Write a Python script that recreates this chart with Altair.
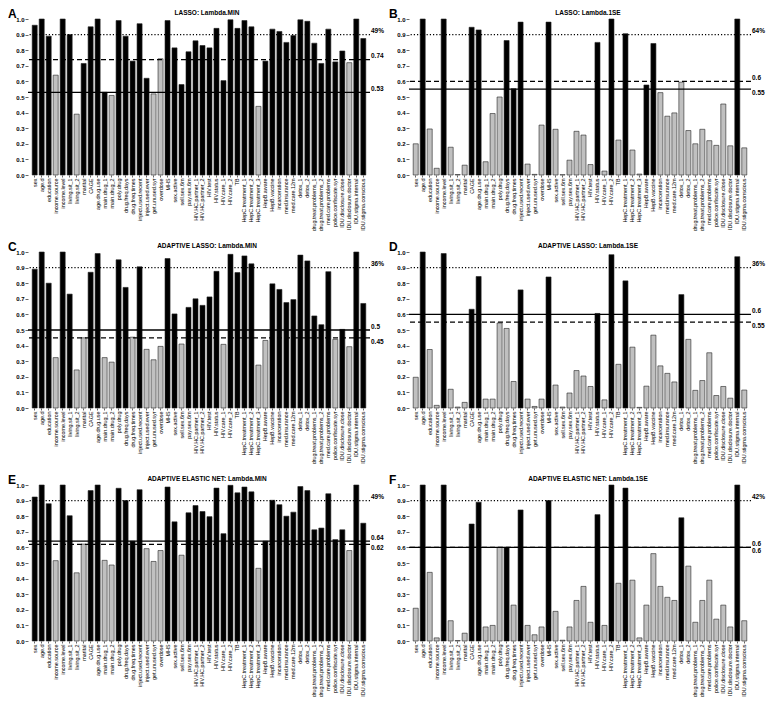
import altair as alt
import pandas as pd

FONT = "Liberation Sans"
W, H = 342, 156

VARS = ["sex", "age.d", "education", "income.source", "income.level", "living.sit_1",
        "living.sit_2", "marital", "CAGE", "age.drug.use", "main.drug_1", "main.drug_2",
        "poly.drug", "drug.freq.days", "drug.freq.times", "inject.used.recent",
        "inject.used.ever", "get.unused.syr", "overdose", "MHS", "sex.active",
        "sell.sex.6m", "pay.sex.6m", "HIV.HC.partner_1", "HIV.HC.partner_2", "HIV.test",
        "HIV.status", "HIV.care_1", "HIV.care_2", "TB", "HepC.treatment_1",
        "HepC.treatment_2", "HepC.treatment_3", "HepB.aware", "HepB.vaccine",
        "incarceration", "med.insurance", "med.care.12m", "detox_1", "detox_2",
        "drug.treat.problems_1", "drug.treat.problems_2", "med.care.problems",
        "police.confiscate.syr", "IDU.disclosure.close", "IDU.disclosure.doctor",
        "IDU.stigma.internal", "IDU.stigma.conscious"]

# Panel A: LASSO lambda.min
VAL_A = [0.96, 1.0, 0.89, 0.64, 1.0, 0.90, 0.39, 0.715, 0.95, 1.0, 0.53, 0.51, 0.99, 0.89,
         0.73, 0.97, 0.62, 0.52, 0.745, 0.99, 0.815, 0.58, 0.79, 0.86, 0.83, 0.815, 0.94,
         0.605, 0.995, 0.94, 0.99, 0.95, 0.44, 0.73, 0.935, 0.92, 0.85, 0.895, 0.995, 0.985,
         0.845, 0.715, 0.935, 0.725, 0.795, 0.72, 1.0, 0.875]
GREY_A = ["income.source", "living.sit_2", "main.drug_2", "get.unused.syr", "overdose",
          "HepC.treatment_3", "IDU.disclosure.doctor"]

# Panel B: LASSO lambda.1se
VAL_B = [0.20, 1.0, 0.295, 0.043, 1.0, 0.178, 0.003, 0.063, 0.947, 0.93, 0.085, 0.394, 0.50,
         0.862, 0.553, 0.98, 0.07, 0.004, 0.32, 0.98, 0.293, 0.002, 0.095, 0.28, 0.256,
         0.067, 0.85, 0.025, 1.0, 0.224, 0.906, 0.16, 0.006, 0.577, 0.843, 0.528, 0.377,
         0.398, 0.595, 0.285, 0.20, 0.293, 0.22, 0.19, 0.455, 0.187, 1.0, 0.174]
BLACK_B = ["age.d", "income.level", "CAGE", "age.drug.use", "drug.freq.days",
           "drug.freq.times", "inject.used.recent", "MHS", "HIV.status", "HIV.care_2",
           "HepC.treatment_1", "HepB.aware", "HepB.vaccine", "IDU.stigma.internal"]

# Panel C: adaptive LASSO lambda.min
VAL_C = [0.89, 1.0, 0.80, 0.323, 1.0, 0.73, 0.244, 0.45, 0.87, 0.99, 0.323, 0.294, 0.95,
         0.773, 0.454, 0.905, 0.376, 0.309, 0.395, 0.958, 0.603, 0.41, 0.645, 0.70, 0.658,
         0.712, 0.876, 0.408, 0.985, 0.868, 0.975, 0.924, 0.275, 0.433, 0.796, 0.76, 0.676,
         0.695, 0.98, 0.943, 0.59, 0.534, 0.874, 0.44, 0.504, 0.393, 1.0, 0.67]
GREY_C = ["income.source", "living.sit_2", "marital", "main.drug_1", "main.drug_2",
          "drug.freq.times", "inject.used.ever", "get.unused.syr", "overdose", "sell.sex.6m",
          "HIV.care_1", "HepC.treatment_3", "HepB.aware", "police.confiscate.syr",
          "IDU.disclosure.doctor"]

# Panel D: adaptive LASSO lambda.1se
VAL_D = [0.197, 1.0, 0.375, 0.017, 0.99, 0.12, 0.006, 0.036, 0.633, 0.843, 0.057, 0.057,
         0.545, 0.51, 0.17, 0.757, 0.057, 0.01, 0.057, 0.84, 0.147, 0.006, 0.096, 0.24,
         0.205, 0.138, 0.606, 0.052, 0.983, 0.28, 0.815, 0.39, 0.004, 0.14, 0.467, 0.27,
         0.222, 0.167, 0.727, 0.44, 0.113, 0.176, 0.354, 0.08, 0.138, 0.063, 0.97, 0.115]
BLACK_D = ["age.d", "income.level", "CAGE", "age.drug.use", "inject.used.recent", "MHS",
           "HIV.status", "HIV.care_2", "HepC.treatment_1", "detox_1", "IDU.stigma.internal"]

# Panel E: adaptive elastic net lambda.min
VAL_E = [0.923, 1.0, 0.88, 0.515, 1.0, 0.803, 0.437, 0.621, 0.964, 1.0, 0.517, 0.487, 0.979,
         0.90, 0.64, 0.97, 0.592, 0.51, 0.58, 0.987, 0.764, 0.55, 0.822, 0.868, 0.83, 0.797,
         0.98, 0.688, 0.998, 0.95, 0.987, 0.956, 0.466, 0.64, 0.902, 0.874, 0.80, 0.826,
         0.99, 0.964, 0.713, 0.724, 0.944, 0.65, 0.713, 0.58, 1.0, 0.755]
GREY_E = ["income.source", "living.sit_2", "marital", "main.drug_1", "main.drug_2",
          "inject.used.ever", "get.unused.syr", "overdose", "sell.sex.6m",
          "HepC.treatment_3", "IDU.disclosure.doctor"]

# Panel F: adaptive elastic net lambda.1se
VAL_F = [0.21, 1.0, 0.44, 0.02, 1.0, 0.13, 0.003, 0.05, 0.75, 0.89, 0.09, 0.10, 0.60, 0.60,
         0.23, 0.84, 0.10, 0.04, 0.09, 0.90, 0.19, 0.005, 0.09, 0.26, 0.35, 0.12, 0.81,
         0.10, 1.0, 0.37, 0.98, 0.39, 0.02, 0.23, 0.56, 0.35, 0.28, 0.26, 0.79, 0.48, 0.12,
         0.26, 0.39, 0.14, 0.23, 0.09, 1.0, 0.13]
BLACK_F = ["age.d", "income.level", "CAGE", "age.drug.use", "drug.freq.days",
           "inject.used.recent", "MHS", "HIV.status", "HIV.care_2", "HepC.treatment_1",
           "detox_1", "IDU.stigma.internal"]

LETTERS = ["A", "B", "C", "D", "E", "F"]
TITLES = ["LASSO: Lambda.MIN", "LASSO: Lambda.1SE", "ADAPTIVE LASSO: Lambda.MIN",
          "ADAPTIVE LASSO: Lambda.1SE", "ADAPTIVE ELASTIC NET: Lambda.MIN",
          "ADAPTIVE ELASTIC NET: Lambda.1SE"]
PCT = ["49%", "64%", "36%", "36%", "49%", "42%"]
SOLID = [0.53, 0.55, 0.5, 0.6, 0.64, 0.6]
DASHED = [0.74, 0.6, 0.45, 0.55, 0.62, 0.6]
DOTTED = 0.9
YTICKS = [0.0, 0.1, 0.2, 0.3, 0.4, 0.5, 0.6, 0.7, 0.8, 0.9, 1.0]


def selected_flags(black=None, grey=None):
    if black is not None:
        return ["yes" if v in black else "no" for v in VARS]
    return ["no" if v in grey else "yes" for v in VARS]


SELS = [selected_flags(grey=GREY_A), selected_flags(black=BLACK_B),
        selected_flags(grey=GREY_C), selected_flags(black=BLACK_D),
        selected_flags(grey=GREY_E), selected_flags(black=BLACK_F)]
VALS = [VAL_A, VAL_B, VAL_C, VAL_D, VAL_E, VAL_F]


def yenc():
    return alt.Y("val:Q", scale=alt.Scale(domain=[0, 1], nice=False),
                 axis=alt.Axis(title=None, values=YTICKS, format=".1f", tickCount=11,
                               labelFontSize=6, labelFontWeight="bold", labelFont=FONT,
                               labelColor="black", tickSize=3, tickColor="black",
                               tickWidth=0.6, domain=False, grid=False, labelPadding=1,
                               labelOverlap=False, labelFlush=False))


def label_layer(v, text, above):
    d = pd.DataFrame({"val": [v], "t": [text]})
    return alt.Chart(d).mark_text(
        align="left", baseline="bottom" if above else "top", dx=1,
        dy=-0.5 if above else 1, fontSize=6.5, fontWeight="bold", font=FONT, color="black"
    ).encode(x=alt.value(W), y=yenc(), text="t:N")


def rule_layer(v, dash):
    d = pd.DataFrame({"val": [v]})
    kw = {"strokeDash": dash} if dash else {}
    return alt.Chart(d).mark_rule(color="black", strokeWidth=1.3, **kw).encode(y=yenc())


def panel(i):
    df = pd.DataFrame({"var": VARS, "val": VALS[i], "sel": SELS[i]})
    x = alt.X("var:N", sort=VARS,
              scale=alt.Scale(paddingInner=0.28, paddingOuter=0.6),
              axis=alt.Axis(title=None, labelAngle=270, labelFontSize=5.4, labelFont=FONT,
                            labelColor="black", tickSize=2, tickColor="black", tickWidth=0.6,
                            domain=False, labelPadding=1, labelOverlap=False, labelLimit=0))
    bars = alt.Chart(df).mark_bar(stroke="#222", strokeWidth=0.6).encode(
        x=x, y=yenc(),
        color=alt.Color("sel:N", scale=alt.Scale(domain=["yes", "no"],
                                                 range=["#000000", "#c0c0c0"]), legend=None))
    s, d = SOLID[i], DASHED[i]
    rules = [rule_layer(DOTTED, [1.2, 2]), rule_layer(d, [5, 3]), rule_layer(s, None)]
    hi, lo = (s, d) if s > d else (d, s)
    if s == d:
        lab = [label_layer(s, f"{s:g}", True), label_layer(d, f"{d:g}", False)]
    else:
        lab = [label_layer(hi, f"{hi:g}", True),
               label_layer(lo, f"{lo:g}", (hi - lo) >= 0.1)]
    lab.append(label_layer(DOTTED, PCT[i], True))
    letter = alt.Chart(pd.DataFrame({"t": [LETTERS[i]], "val": [1.0]})).mark_text(
        align="left", baseline="alphabetic", fontSize=12, fontWeight="bold", font=FONT,
        color="black", dy=-1).encode(x=alt.value(-20), y=yenc(), text="t:N")
    title = alt.Chart(pd.DataFrame({"t": [TITLES[i]], "val": [1.0]})).mark_text(
        align="center", baseline="bottom", fontSize=6.5, fontWeight="bold", font=FONT,
        color="black", dy=-3).encode(x=alt.value(W / 2 + 8), y=yenc(), text="t:N")
    return alt.layer(bars, *rules, *lab, letter, title).properties(width=W, height=H)


rows = [alt.hconcat(panel(2 * r), panel(2 * r + 1), spacing=4) for r in range(3)]
chart = alt.vconcat(*rows, spacing=10).configure_view(stroke=None).properties(
    padding=0, background="white")

chart.save("out.html", embed_options={"renderer": "svg", "actions": False})
